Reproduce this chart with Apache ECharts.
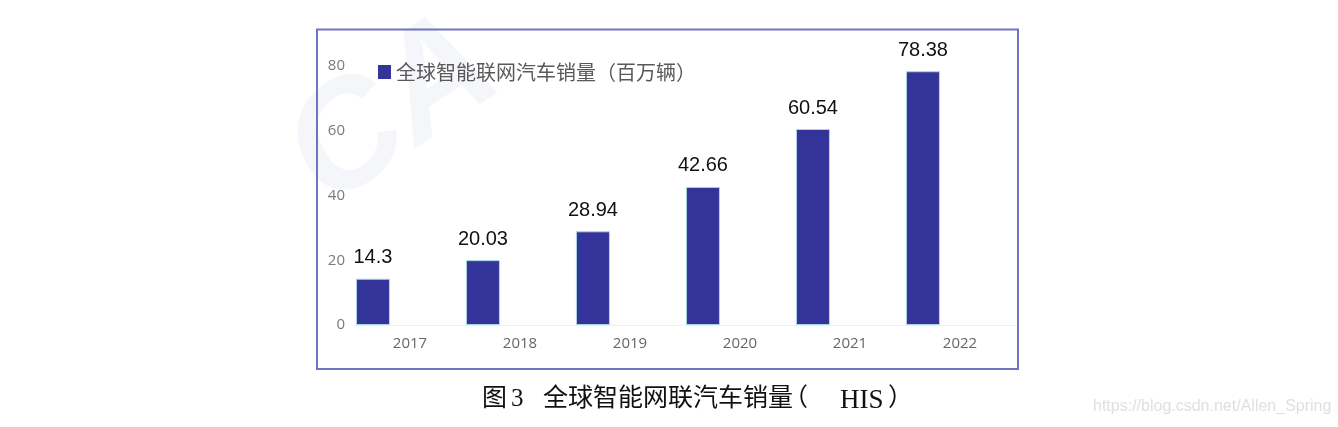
<!DOCTYPE html>
<html>
<head>
<meta charset="utf-8">
<script src="https://cdn.jsdelivr.net/npm/echarts@6/dist/echarts.min.js"></script>
<style>
html,body{margin:0;padding:0;background:#fff;}
#chart{width:1338px;height:427px;}
</style>
</head>
<body>
<div id="chart"></div>
<script>
var categories = ['2017', '2018', '2019', '2020', '2021', '2022'];
var salesValues = [14.3, 20.03, 28.94, 42.66, 60.54, 78.38];
var emptyValues = [null, null, null, null, null, null];
var yTicks = [0, 20, 40, 60, 80];
var seriesName = '全球智能联网汽车销量（百万辆）';

var chart = echarts.init(document.getElementById('chart'), null, {renderer: 'canvas'});
var cjk = '"Microsoft YaHei","Noto Sans CJK SC",sans-serif';
var serif = '"Liberation Serif","Noto Sans CJK SC",serif';

var option = {
  backgroundColor: '#ffffff',
  animation: false,
  grid: {left: 355, right: 323, top: 66, bottom: 102, containLabel: false},
  legend: {
    data: [seriesName],
    left: 378, top: 62, padding: 0,
    itemWidth: 13, itemHeight: 14, itemGap: 6,
    icon: 'rect',
    itemStyle: {borderWidth: 0},
    textStyle: {fontSize: 20, color: '#595959', fontFamily: cjk}
  },
  xAxis: {
    type: 'category',
    data: categories,
    axisLine: {show: true, lineStyle: {color: '#eeeeee', width: 1}},
    axisTick: {show: false},
    axisLabel: {fontSize: 15, color: '#666666', margin: 11, fontFamily: '"Open Sans","Liberation Sans",sans-serif'}
  },
  yAxis: {
    type: 'value',
    min: yTicks[0], max: yTicks[yTicks.length - 1], interval: 20,
    splitLine: {show: false},
    axisLine: {show: false},
    axisTick: {show: false},
    axisLabel: {fontSize: 15, color: '#7a7a7a', margin: 10, fontFamily: '"Open Sans","Liberation Sans",sans-serif'}
  },
  series: [
    {
      name: seriesName,
      type: 'bar',
      data: salesValues,
      barWidth: 34,
      barGap: '118%',
      itemStyle: {color: '#333399', borderColor: '#a9d6e5', borderWidth: 1},
      label: {
        show: true, position: 'top', distance: 11,
        fontSize: 20, color: '#111111', fontFamily: '"Liberation Sans",Arial,sans-serif'
      }
    },
    {
      name: 'blank',
      type: 'bar',
      data: emptyValues,
      barWidth: 34,
      itemStyle: {color: 'transparent'}
    }
  ],
  graphic: [
    {
      type: 'text', left: 262, top: -10, rotation: 0.6, z: -10,
      style: {text: 'CA', fontSize: 150, fontWeight: 'bold', fontStyle: 'italic', fill: '#e3e8f3', opacity: 0.4, fontFamily: '"Liberation Sans",sans-serif'}
    },
    {
      type: 'rect', z: 100,
      shape: {x: 317, y: 29.5, width: 701, height: 339.5},
      style: {fill: 'none', stroke: '#7272c2', lineWidth: 2}
    },
    {type: 'text', left: 482, top: 387, style: {text: '图', fontSize: 25, fill: '#111', fontFamily: serif}},
    {type: 'text', left: 511, top: 387, style: {text: '3', fontSize: 25, fill: '#111', fontFamily: serif}},
    {type: 'text', left: 543, top: 387, style: {text: '全球智能网联汽车销量', fontSize: 25, fill: '#111', fontFamily: serif}},
    {type: 'text', left: 783, top: 387, style: {text: '（', fontSize: 25, fill: '#111', fontFamily: serif}},
    {type: 'text', left: 840, top: 387, style: {text: 'HIS', fontSize: 27, fill: '#111', fontFamily: '"Liberation Serif",serif'}},
    {type: 'text', left: 888, top: 387, style: {text: '）', fontSize: 25, fill: '#111', fontFamily: serif}},
    {type: 'text', left: 1093, top: 399, style: {text: 'https://blog.csdn.net/Allen_Spring', fontSize: 16, fill: '#e0e0e0', fontFamily: '"Liberation Sans",Arial,sans-serif'}}
  ]
};
chart.setOption(option);
</script>
</body>
</html>
